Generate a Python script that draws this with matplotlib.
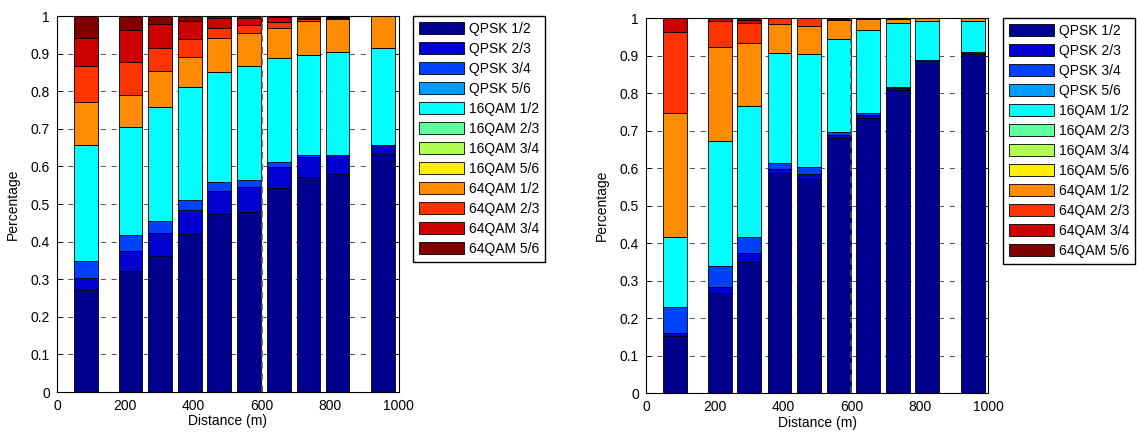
import numpy as np
import matplotlib
matplotlib.use('Agg')
import matplotlib.pyplot as plt

plt.rcParams['font.family'] = ['Liberation Sans', 'DejaVu Sans']

# bar centres (m)
distance = [85, 215, 302, 390, 475, 563, 649, 736, 821, 954]

schemes = ['QPSK 1/2', 'QPSK 2/3', 'QPSK 3/4', 'QPSK 5/6',
           '16QAM 1/2', '16QAM 2/3', '16QAM 3/4', '16QAM 5/6',
           '64QAM 1/2', '64QAM 2/3', '64QAM 3/4', '64QAM 5/6']

# share of each scheme per distance bin (rows = distance bins, columns = schemes)
left_share = [
    [0.270, 0.033, 0.045, 0, 0.309, 0, 0, 0, 0.113, 0.096, 0.075, 0.059],
    [0.321, 0.054, 0.043, 0, 0.286, 0, 0, 0, 0.087, 0.087, 0.086, 0.036],
    [0.361, 0.063, 0.031, 0, 0.304, 0, 0, 0, 0.094, 0.061, 0.064, 0.022],
    [0.421, 0.063, 0.026, 0, 0.300, 0, 0, 0, 0.082, 0.046, 0.050, 0.012],
    [0.473, 0.062, 0.023, 0, 0.292, 0, 0, 0, 0.091, 0.028, 0.026, 0.005],
    [0.479, 0.065, 0.020, 0, 0.302, 0, 0, 0, 0.090, 0.019, 0.020, 0.005],
    [0.543, 0.056, 0.014, 0, 0.274, 0, 0, 0, 0.082, 0.014, 0.015, 0.002],
    [0.572, 0.054, 0.004, 0, 0.265, 0, 0, 0, 0.093, 0.004, 0.004, 0.004],
    [0.581, 0.048, 0.002, 0, 0.272, 0, 0, 0, 0.089, 0.003, 0.002, 0.003],
    [0.632, 0.025, 0, 0, 0.257, 0, 0, 0, 0.086, 0, 0, 0],
]
right_share = [
    [0.154, 0.006, 0.069, 0, 0.187, 0, 0, 0, 0.331, 0.217, 0.036, 0],
    [0.267, 0.017, 0.056, 0, 0.334, 0, 0, 0, 0.249, 0.071, 0.006, 0],
    [0.349, 0.024, 0.043, 0, 0.351, 0, 0, 0, 0.168, 0.053, 0.007, 0.005],
    [0.587, 0.010, 0.016, 0, 0.295, 0, 0, 0, 0.077, 0.015, 0, 0],
    [0.571, 0.014, 0.019, 0, 0.301, 0, 0, 0, 0.074, 0.021, 0, 0],
    [0.681, 0.008, 0.008, 0, 0.247, 0, 0, 0, 0.051, 0.003, 0.002, 0],
    [0.735, 0.006, 0.007, 0, 0.221, 0, 0, 0, 0.030, 0.001, 0, 0],
    [0.809, 0.004, 0.005, 0, 0.169, 0, 0, 0, 0.010, 0.003, 0, 0],
    [0.887, 0.003, 0, 0, 0.104, 0, 0, 0, 0.006, 0, 0, 0],
    [0.906, 0.003, 0, 0, 0.085, 0, 0, 0, 0.006, 0, 0, 0],
]

# jet-like colours, one per scheme
colors = ['#00008f', '#0000d0', '#0040ff', '#009cff',
          '#00ffff', '#60ffa0', '#b0ff50', '#ffee00',
          '#ff8c00', '#ff3300', '#cc0000', '#800000']

W, H = 1137, 432
fig = plt.figure(figsize=(W / 100, H / 100), dpi=100)

def px_axes(x0, y0, x1, y1):
    return fig.add_axes([x0 / W, 1 - y1 / H, (x1 - x0) / W, (y1 - y0) / H])

def draw(ax, share, legend_pos):
    share = np.array(share)
    bottom = np.zeros(len(distance))
    handles = []
    for k in range(len(schemes)):
        b = ax.bar(distance, share[:, k], width=70, bottom=bottom, color=colors[k],
                   edgecolor='black', linewidth=0.6, label=schemes[k], zorder=2)
        handles.append(b)
        bottom += share[:, k]
    ax.axvline(600, color='#555555', linestyle=(0, (4, 3)), linewidth=1.2, zorder=3)
    ax.set_xlim(0, 1000)
    ax.set_ylim(0, 1)
    ax.set_xticks(range(0, 1001, 200))
    yt = np.round(np.arange(0, 1.01, 0.1), 1)
    ax.set_yticks(yt)
    ax.set_yticklabels(['%g' % v for v in yt])
    ax.yaxis.grid(True, color='#333333', linestyle=(0, (6, 7)), linewidth=0.6)
    ax.set_axisbelow(True)
    ax.tick_params(direction='in', top=True, right=True, length=4, width=0.6,
                   labelsize=10, pad=5)
    for s in ax.spines.values():
        s.set_linewidth(0.8)
    ax.set_xlabel('Distance (m)', fontsize=10, labelpad=1)
    ax.set_ylabel('Percentage', fontsize=10, labelpad=8)
    fig.legend(handles, schemes, loc='upper left',
               bbox_to_anchor=(legend_pos[0] / W, 1 - legend_pos[1] / H),
               fontsize=10, frameon=True, fancybox=False, edgecolor='black',
               framealpha=1, handlelength=3.2, handleheight=0.95,
               labelspacing=0.43, handletextpad=0.35, borderpad=0.45,
               borderaxespad=0)

ax1 = px_axes(57, 16, 398.7, 392)
draw(ax1, left_share, (413, 16))
ax2 = px_axes(646, 18.3, 988.3, 393.3)
draw(ax2, right_share, (1003, 18))

fig.savefig('out.png', dpi=100)
